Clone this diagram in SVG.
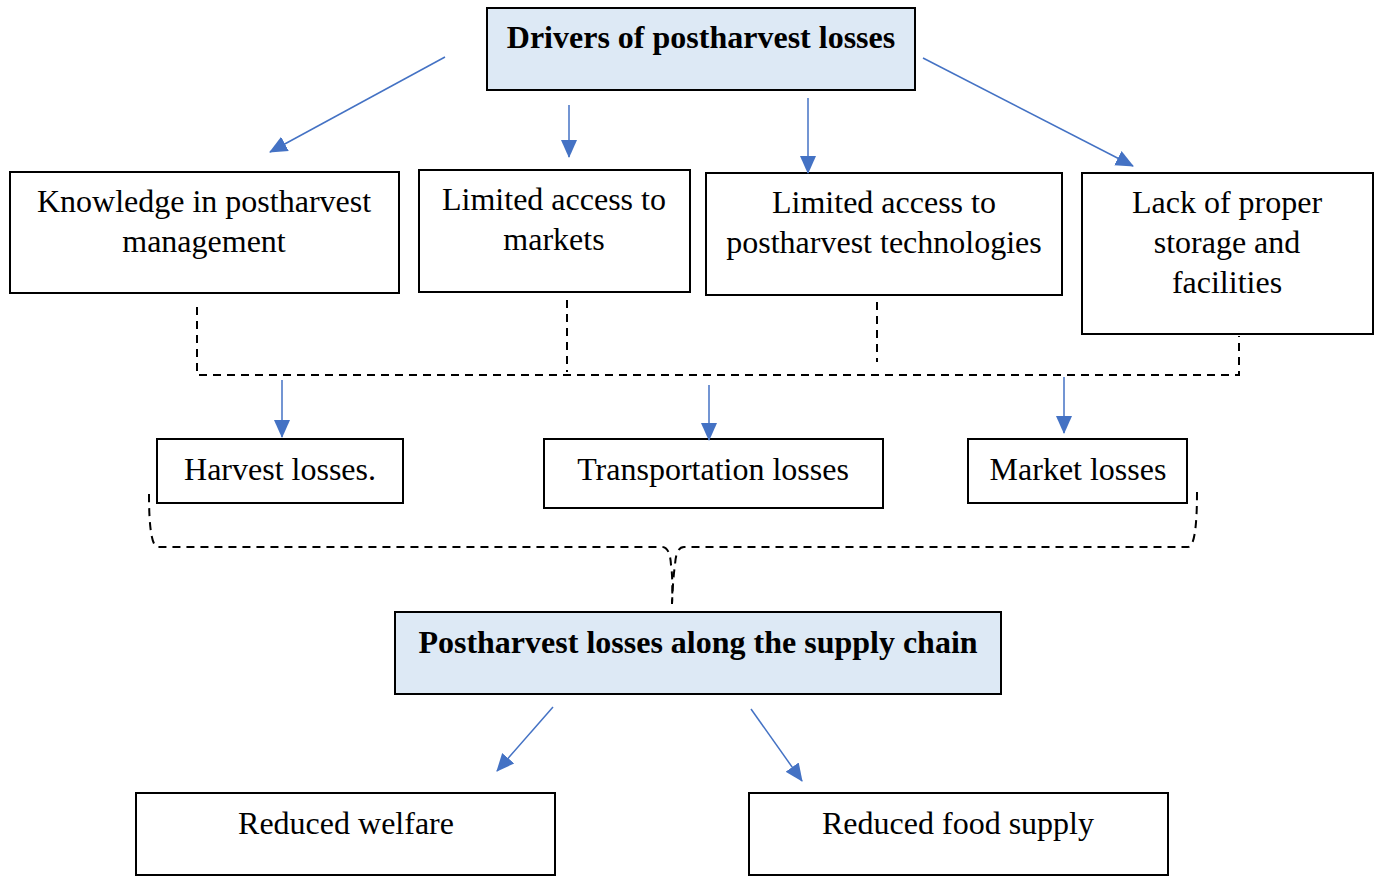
<svg xmlns="http://www.w3.org/2000/svg" width="1375" height="876" viewBox="0 0 1375 876">
  <style>
    .box { fill: #ffffff; stroke: #000000; stroke-width: 2; }
    .hl { fill: #dde9f5; stroke: #000000; stroke-width: 2; }
    .t { font-family: "Liberation Serif", "Times New Roman", serif; font-size: 32px; fill: #000000; text-anchor: middle; }
    .b { font-weight: bold; }
    .arrow { stroke: #4472c4; stroke-width: 1.5; fill: none; marker-end: url(#ah); }
    .dash { stroke: #000000; stroke-width: 2; fill: none; stroke-dasharray: 8 6; }
  </style>
  <defs>
    <marker id="ah" markerUnits="userSpaceOnUse" markerWidth="18" markerHeight="18" viewBox="0 0 18 18" refX="17" refY="9" orient="auto">
      <path d="M0,1 L18,9 L0,17 Z" fill="#4472c4"/>
    </marker>
  </defs>
  <rect width="1375" height="876" fill="#ffffff"/>

  <g id="drivers">
    <rect class="hl" x="487" y="8" width="428" height="82"/>
    <text class="t b" x="701" y="48">Drivers of postharvest losses</text>
  </g>
  <g id="knowledge">
    <rect class="box" x="10" y="172" width="389" height="121"/>
    <text class="t" x="204" y="212">Knowledge in postharvest</text>
    <text class="t" x="204" y="252">management</text>
  </g>
  <g id="markets">
    <rect class="box" x="419" y="170" width="271" height="122"/>
    <text class="t" x="554" y="210">Limited access to</text>
    <text class="t" x="554" y="250">markets</text>
  </g>
  <g id="technologies">
    <rect class="box" x="706" y="173" width="356" height="122"/>
    <text class="t" x="884" y="213">Limited access to</text>
    <text class="t" x="884" y="253">postharvest technologies</text>
  </g>
  <g id="storage">
    <rect class="box" x="1082" y="173" width="291" height="161"/>
    <text class="t" x="1227" y="213">Lack of proper</text>
    <text class="t" x="1227" y="253">storage and</text>
    <text class="t" x="1227" y="293">facilities</text>
  </g>
  <g id="harvest">
    <rect class="box" x="157" y="439" width="246" height="64"/>
    <text class="t" x="280" y="480">Harvest losses.</text>
  </g>
  <g id="transportation">
    <rect class="box" x="544" y="439" width="339" height="69"/>
    <text class="t" x="713" y="480">Transportation losses</text>
  </g>
  <g id="market-losses">
    <rect class="box" x="968" y="439" width="219" height="64"/>
    <text class="t" x="1078" y="480">Market losses</text>
  </g>
  <g id="supply-chain">
    <rect class="hl" x="395" y="612" width="606" height="82"/>
    <text class="t b" x="698" y="653">Postharvest losses along the supply chain</text>
  </g>
  <g id="welfare">
    <rect class="box" x="136" y="793" width="419" height="82"/>
    <text class="t" x="346" y="834">Reduced welfare</text>
  </g>
  <g id="food-supply">
    <rect class="box" x="749" y="793" width="419" height="82"/>
    <text class="t" x="958" y="834">Reduced food supply</text>
  </g>

  <g id="connectors">
    <line class="arrow" x1="445" y1="57" x2="270" y2="152"/>
    <line class="arrow" x1="569" y1="105" x2="569" y2="157"/>
    <line class="arrow" x1="808" y1="98" x2="808" y2="173"/>
    <line class="arrow" x1="923" y1="58" x2="1133" y2="166"/>

    <path class="dash" d="M197,307 V375 H1239 V336"/>
    <line class="dash" x1="567" y1="300" x2="567" y2="372"/>
    <line class="dash" x1="877" y1="302" x2="877" y2="362"/>

    <line class="arrow" x1="282" y1="380" x2="282" y2="437"/>
    <line class="arrow" x1="709" y1="385" x2="709" y2="440"/>
    <line class="arrow" x1="1064" y1="377" x2="1064" y2="433"/>

    <path class="dash" d="M149,494 Q149,547 158,547 H662 Q670,547 671,565 Q673,578 672,604"/>
    <path class="dash" d="M1197,492 Q1197,547 1188,547 H684 Q676,547 675,565 Q673,578 672,604"/>

    <line class="arrow" x1="553" y1="707" x2="497" y2="771"/>
    <line class="arrow" x1="751" y1="709" x2="802" y2="781"/>
  </g>
</svg>
